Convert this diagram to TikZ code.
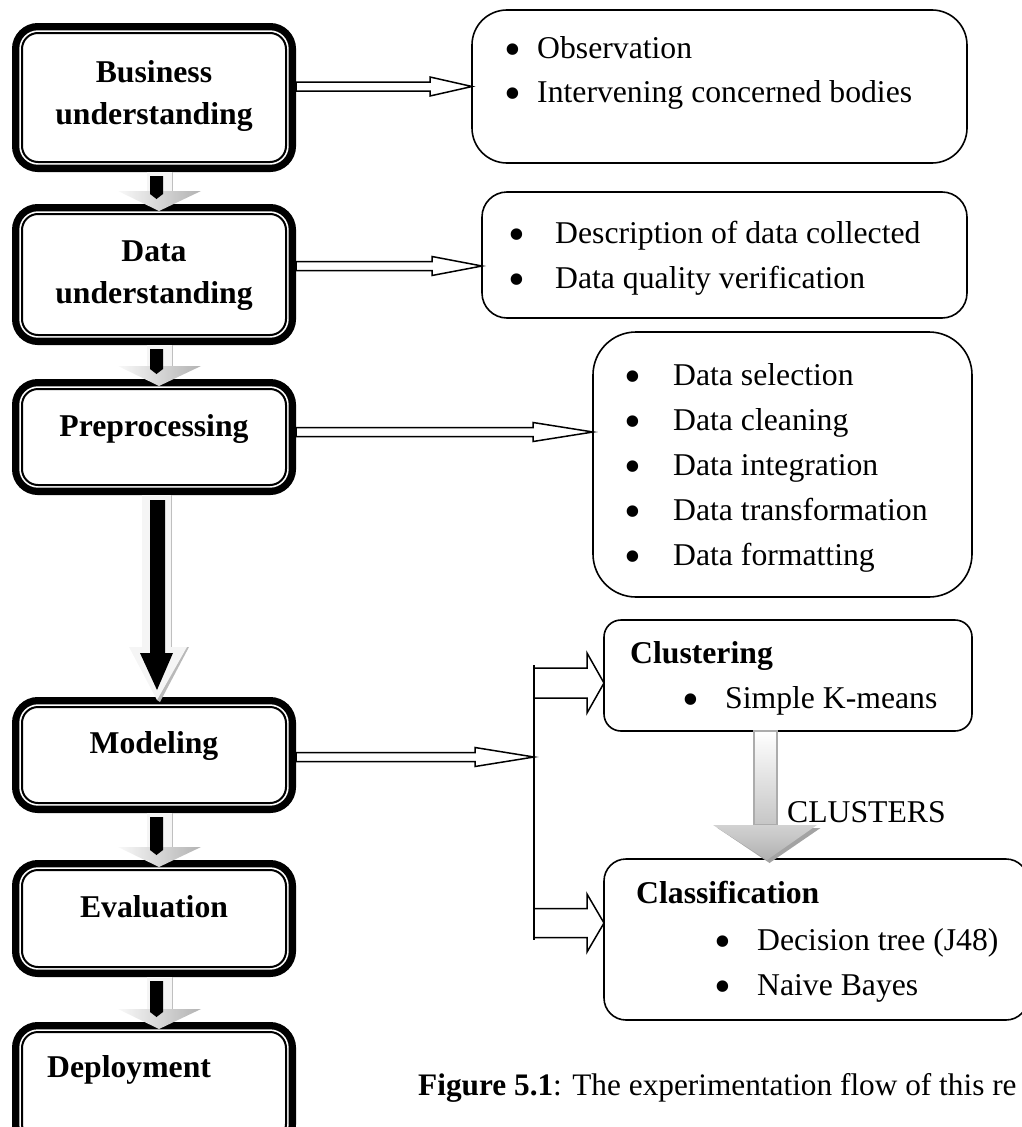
\documentclass[tikz,border=0pt]{standalone}
\usepackage{fontspec}
\setmainfont{Liberation Serif}
\usetikzlibrary{calc}

\tikzset{
  stagebox/.style={rectangle, rounded corners=16pt, minimum width=264pt,
    inner sep=0pt, outer sep=10pt,
    preaction={draw, line width=20pt},
    preaction={fill=white},
    preaction={draw=white, line width=5.4pt},
    draw, line width=2pt},
  stagetext/.style={font=\bfseries\fontsize{31.7pt}{42pt}\selectfont, align=center, inner sep=0pt},
  listbox/.style={draw, line width=1.6pt, rectangle, inner sep=0pt, outer sep=0pt},
  itemtext/.style={font=\fontsize{31.7pt}{45pt}\selectfont, inner sep=0pt, anchor=base west},
  headtext/.style={font=\bfseries\fontsize{31.7pt}{45pt}\selectfont, inner sep=0pt, anchor=base west},
  hollow/.style={draw, fill=white, line width=1.5pt, line join=miter},
}

% list bullet, a little larger than the text bullet
\newcommand\blt{\raisebox{-7pt}{\fontsize{48pt}{48pt}\selectfont\textbullet}}

% hollow block arrow pointing right: start (x only), tip, shaft half-height, head half-height, head length
\newcommand\rightblock[5]{%
  \draw[hollow] let \p1=(#1), \p2=(#2) in
    (\x1,\y2+#3) -- (\x2-#5,\y2+#3) -- (\x2-#5,\y2+#4) -- (\x2,\y2)
    -- (\x2-#5,\y2-#4) -- (\x2-#5,\y2-#3) -- (\x1,\y2-#3) -- cycle;}

% short shaded arrow between two stage boxes: top point, top of the next box
\newcommand\stagearrow[2]{%
  \path[fill=gray!8] let \p1=(#1), \p2=(#2) in
    (\x1-12pt,\y1) rectangle (\x1+14pt,\y2+13pt);
  \draw[gray!50, line width=1.5pt] let \p1=(#1), \p2=(#2) in
    (\x1+13.5pt,\y1) -- (\x1+13.5pt,\y2+13pt);
  \path[left color=gray!5, right color=gray!60] let \p1=(#1), \p2=(#2) in
    (\x1-41pt,\y2+13pt) -- (\x1+42pt,\y2+13pt) -- (\x1,\y2-7pt) -- cycle;
  \fill let \p1=(#1), \p2=(#2) in
    (\x1-9pt,\y1-4pt) -- (\x1+4pt,\y1-4pt) -- (\x1+4pt,\y2+10pt)
    -- (\x1-2.5pt,\y2+5pt) -- (\x1-9pt,\y2+10pt) -- cycle;}

\begin{document}
\begin{tikzpicture}[x=1pt, y=-1pt]
\useasboundingbox (0,0) rectangle (1021,1127);

% ---- stage boxes (left column)
\node[stagebox, minimum height=129pt] (bu) at (154,97.5) {};
\node[stagebox, minimum height=121pt] (du) at (154,274.5) {};
\node[stagebox, minimum height=96pt]  (pp) at (154,437) {};
\node[stagebox, minimum height=96pt]  (mo) at (154,755) {};
\node[stagebox, minimum height=97pt]  (ev) at (154,918.5) {};
\node[stagebox, minimum height=108pt] (de) at (154,1086) {};

\node[stagetext, anchor=north] (buT) at (154,60) {Business\\understanding};
\node[stagetext, anchor=north] (duT) at (154,241) {Data\\understanding};
\node[stagetext, anchor=base] (ppT) at (154,436) {Preprocessing};
\node[stagetext, anchor=base] (moT) at (154,753) {Modeling};
\node[stagetext, anchor=base] (evT) at (154,917) {Evaluation};
\node[stagetext, anchor=base west] (deT) at (47,1077) {Deployment};

% ---- detail boxes (right column)
\node[listbox, rounded corners=35pt, minimum width=495pt, minimum height=153pt] (obs) at (719.5,86.5) {};
\node[itemtext] (obs1b) at (504,58) {\blt};
\node[itemtext] (obs1) at (537,58) {Observation};
\node[itemtext] (obs2b) at (504,102) {\blt};
\node[itemtext] (obs2) at (537,102) {Intervening concerned bodies};

\node[listbox, rounded corners=25pt, minimum width=485pt, minimum height=126pt] (dat) at (724.5,255) {};
\node[itemtext] (dat1b) at (508,243) {\blt};
\node[itemtext] (dat1) at (555,243) {Description of data collected};
\node[itemtext] (dat2b) at (508,288) {\blt};
\node[itemtext] (dat2) at (555,288) {Data quality verification};

\node[listbox, rounded corners=43pt, minimum width=379pt, minimum height=265pt] (prep) at (782.5,464.5) {};
\node[itemtext] (prep1b) at (624,385) {\blt};
\node[itemtext] (prep1) at (673,385) {Data selection};
\node[itemtext] (prep2b) at (624,430) {\blt};
\node[itemtext] (prep2) at (673,430) {Data cleaning};
\node[itemtext] (prep3b) at (624,475) {\blt};
\node[itemtext] (prep3) at (673,475) {Data integration};
\node[itemtext] (prep4b) at (624,520) {\blt};
\node[itemtext] (prep4) at (673,520) {Data transformation};
\node[itemtext] (prep5b) at (624,565) {\blt};
\node[itemtext] (prep5) at (673,565) {Data formatting};

\node[listbox, rounded corners=17pt, minimum width=368pt, minimum height=111pt] (clu) at (788,675.5) {};
\node[headtext] (cluH) at (630,663) {Clustering};
\node[itemtext] (clu1b) at (682,708) {\blt};
\node[itemtext] (clu1) at (725,708) {Simple K-means};

\node[listbox, rounded corners=22pt, minimum width=424pt, minimum height=161pt] (cls) at (816,939.5) {};
\node[headtext] (clsH) at (636,903) {Classification};
\node[itemtext] (cls1b) at (714,950) {\blt};
\node[itemtext] (cls1) at (757,950) {Decision tree (J48)};
\node[itemtext] (cls2b) at (714,995) {\blt};
\node[itemtext] (cls2) at (757,995) {Naive Bayes};

% ---- hollow arrows from stages to their details
\rightblock{bu.east}{obs.west}{4.5pt}{9.5pt}{42pt}
\rightblock{du.east}{[yshift=-11pt]dat.west}{4.5pt}{9.5pt}{50pt}
\rightblock{pp.east}{[yshift=32.5pt]prep.west}{4.5pt}{9.5pt}{60pt}

% ---- modelling branch
\coordinate (brtop) at (534,665);
\coordinate (brmid) at (534,757);
\coordinate (brbot) at (534,940);
\rightblock{mo.east}{brmid}{4.5pt}{9.5pt}{59pt}
\draw[line width=1.5pt] (brtop) -- (brbot);
\rightblock{brtop}{[yshift=-7.5pt]clu.west}{15pt}{30pt}{17pt}
\rightblock{brbot}{[yshift=16.5pt]cls.west}{14.5pt}{29pt}{17pt}

% ---- shaded arrows down the stage column
\stagearrow{[xshift=5pt]bu.south}{du.north}
\stagearrow{[xshift=5pt]du.south}{pp.north}
\stagearrow{[xshift=5pt]mo.south}{ev.north}
\stagearrow{[xshift=5pt]ev.south}{de.north}

% long arrow from preprocessing to modelling
\fill[gray!55] let \p1=([xshift=3pt]pp.south), \p2=(mo.north) in
  (\x1+15pt,\y2+50pt) -- (\x1+32pt,\y2+50pt) -- (\x1+3pt,\y2-5pt) -- (\x1,\y2-3pt) -- cycle;
\path[fill=gray!8] let \p1=([xshift=3pt]pp.south), \p2=(mo.north) in
  (\x1-15pt,\y1) -- (\x1+15pt,\y1) -- (\x1+15pt,\y2+50pt) -- (\x1+30pt,\y2+50pt)
  -- (\x1,\y2-3pt) -- (\x1-28pt,\y2+50pt) -- (\x1-15pt,\y2+50pt) -- cycle;
\draw[gray!50, line width=1.5pt] let \p1=([xshift=3pt]pp.south), \p2=(mo.north) in
  (\x1+14.5pt,\y1) -- (\x1+14.5pt,\y2+50pt);
\fill let \p1=([xshift=3pt]pp.south), \p2=(mo.north) in
  (\x1-7pt,\y1-5pt) -- (\x1+8pt,\y1-5pt) -- (\x1+8pt,\y2+44pt) -- (\x1+16pt,\y2+44pt)
  -- (\x1,\y2+7pt) -- (\x1-17pt,\y2+44pt) -- (\x1-7pt,\y2+44pt) -- cycle;

% clusters passed on to classification
\path[top color=white, bottom color=gray!45, draw=gray!65, line width=1.2pt]
  let \p1=([xshift=-22.5pt]clu.south), \p2=(cls.north) in
  (\x1-11.5pt,\y1) rectangle (\x1+11.5pt,\y2+34pt);
\fill[gray!72] let \p1=([xshift=-22.5pt]clu.south), \p2=(cls.north) in
  (\x1-48pt,\y2+31pt) -- (\x1+55pt,\y2+31pt) -- (\x1+4pt,\y2-4pt) -- cycle;
\path[top color=gray!35, bottom color=gray!62] let \p1=([xshift=-22.5pt]clu.south), \p2=(cls.north) in
  (\x1-52.5pt,\y2+34pt) -- (\x1+51.5pt,\y2+34pt) -- (\x1+1.5pt,\y2-1pt) -- cycle;
\node[itemtext] (clusT) at (787,822) {CLUSTERS};

% ---- caption
\node[itemtext, font=\fontsize{31.3pt}{40pt}\selectfont] (cap) at (418,1095) {\textbf{Figure 5.1}: The experimentation flow of this re};
\end{tikzpicture}
\end{document}
